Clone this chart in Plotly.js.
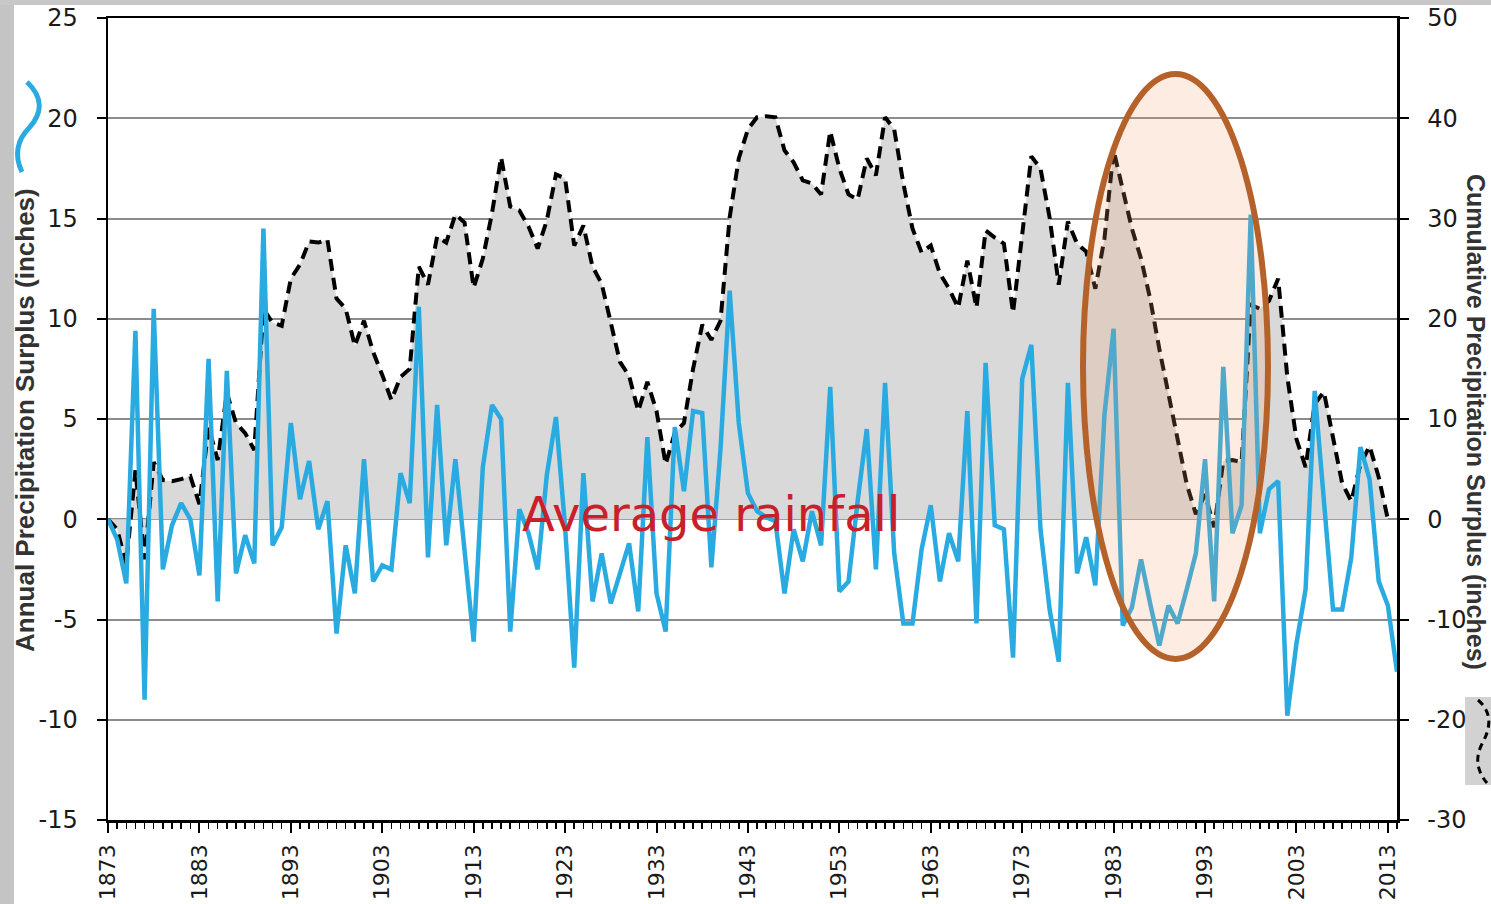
<!DOCTYPE html>
<html>
<head>
<meta charset="utf-8">
<script src="https://cdn.plot.ly/plotly-3.0.1.min.js"></script>
<style>
  html, body { margin: 0; padding: 0; background: #ffffff; }
  #chart { width: 1491px; height: 904px; }
</style>
</head>
<body>
<div id="chart"></div>
<script>
// ---- DATA ----
const firstYear = 1873;
const lastYear = 2014;
const years = [];
for (let y = firstYear; y <= lastYear; y++) years.push(y);

// Annual precipitation surplus (inches), left axis, 1873-2014
const annualSurplus = [
  0.0, -1.0, -3.2, 9.4, -9.0, 10.5, -2.5, -0.3, 0.8, 0.0,
  -2.8, 8.0, -4.1, 7.4, -2.7, -0.8, -2.2, 14.5, -1.3, -0.4,
  4.8, 1.0, 2.9, -0.5, 0.9, -5.7, -1.3, -3.7, 3.0, -3.1,
  -2.3, -2.5, 2.3, 0.8, 10.6, -1.9, 5.7, -1.3, 3.0, -1.5,
  -6.1, 2.6, 5.7, 5.0, -5.6, 0.5, -0.7, -2.5, 2.2, 5.1,
  -0.4, -7.4, 2.3, -4.1, -1.7, -4.2, -2.7, -1.2, -4.6, 4.1,
  -3.7, -5.6, 4.6, 1.4, 5.4, 5.3, -2.4, 3.5, 11.4, 4.8,
  1.3, 0.4, 0.1, -0.1, -3.7, -0.5, -2.1, 0.4, -1.3, 6.6,
  -3.6, -3.1, 0.9, 4.5, -2.5, 6.8, -1.7, -5.2, -5.2, -1.5,
  0.7, -3.1, -0.7, -2.1, 5.4, -5.2, 7.8, -0.3, -0.5, -6.9,
  7.0, 8.7, -0.5, -4.5, -7.1, 6.8, -2.7, -0.9, -3.3, 5.2,
  9.5, -5.3, -4.4, -2.0, -4.2, -6.3, -4.3, -5.2, -3.5, -1.7,
  3.0, -4.1, 7.6, -0.7, 0.7, 15.2, -0.7, 1.5, 1.9, -9.8,
  -6.2, -3.5, 6.4, 1.2, -4.5, -4.5, -1.9, 3.6, 2.0, -3.1,
  -4.3, -7.6
];

// Cumulative precipitation surplus (inches), right axis, 1873-2013 (no 2014 value)
const cumulativeSurplus = [
  0.0, -1.0, -4.5, 4.9, -4.0, 5.7, 3.9, 3.8, 4.0, 4.3,
  1.5, 9.2, 5.9, 12.6, 9.6, 8.6, 6.9, 21.0, 19.6, 19.3,
  24.0, 25.4, 27.7, 27.6, 27.9, 22.0, 21.0, 17.3, 19.8, 16.7,
  14.4, 11.9, 14.2, 15.0, 25.2, 23.4, 28.2, 27.6, 30.4, 29.6,
  23.1, 26.0, 30.5, 36.1, 31.2, 30.8, 29.2, 27.0, 29.8, 34.4,
  34.0, 27.3, 29.3, 25.2, 23.5, 19.8, 15.7, 14.3, 10.8, 13.7,
  10.8, 5.5, 8.6, 9.6, 15.0, 19.4, 17.9, 19.8, 30.1, 36.0,
  38.9, 40.1, 40.2, 40.1, 36.8, 35.6, 33.8, 33.5, 32.4, 38.7,
  35.0, 32.4, 31.9, 36.0, 34.3, 40.1, 38.9, 33.5, 29.0, 26.6,
  27.3, 24.5, 23.0, 21.1, 25.8, 21.1, 28.8, 28.1, 27.5, 20.6,
  28.0, 36.2, 35.0, 30.1, 23.4, 29.7, 27.5, 26.7, 23.0, 28.0,
  36.8, 33.0, 29.0, 26.0, 22.0, 17.0, 12.5, 7.5, 3.5, 0.5,
  2.5, -0.8, 5.8, 5.9, 5.7, 21.4, 21.0, 21.8, 24.0, 14.2,
  8.0, 5.2, 11.5, 12.7, 8.2, 3.6, 1.8, 5.5, 7.3, 4.2,
  0.0, null
];

// Tick labels (hyphen minus as in the original)
const leftTickVals = [-15, -10, -5, 0, 5, 10, 15, 20, 25];
const leftTickText = ['-15', '-10', '-5', '0', '5', '10', '15', '20', '25'];
const rightTickVals = [-30, -20, -10, 0, 10, 20, 30, 40, 50];
const rightTickText = ['-30', '-20', '-10', '0', '10', '20', '30', '40', '50'];

const leftTitle = 'Annual Precipitation Surplus (inches)';
const rightTitle = 'Cumulative Precipitation Surplus (inches)';
const noteText = 'Average rainfall';

// ---- helpers: page pixel -> paper coordinates ----
const PL = 108, PT = 18, PW = 1289, PH = 802;
const px = x => (x - PL) / PW;
const py = y => (PT + PH - y) / PH;
function pathFrom(cmds) {
  return cmds.map(c => c[0] + ' ' + c.slice(1).reduce((acc, v, i) => {
    if (i % 2 === 0) acc.push(px(v).toFixed(5)); else acc.push(py(v).toFixed(5));
    return acc;
  }, []).join(' ')).join(' ');
}

const tickFont = { family: 'DejaVu Sans, Verdana, sans-serif', size: 24, color: '#1a1a1a' };

const traces = [
  {
    x: years, y: cumulativeSurplus, yaxis: 'y', type: 'scatter', mode: 'lines',
    line: { color: '#000000', width: 4, dash: '12px,7px' },
    fill: 'tozeroy', fillcolor: '#d9d9d9',
    hoverinfo: 'x+y', showlegend: false, connectgaps: false
  },
  {
    x: years, y: annualSurplus, yaxis: 'y2', type: 'scatter', mode: 'lines',
    line: { color: '#29abe2', width: 4.5 },
    hoverinfo: 'x+y', showlegend: false
  }
];

const layout = {
  width: 1491, height: 904, autosize: false,
  margin: { l: 108, r: 94, t: 18, b: 84, pad: 0 },
  paper_bgcolor: '#ffffff', plot_bgcolor: 'rgba(0,0,0,0)',
  showlegend: false,
  xaxis: {
    range: [1873, 2014], tickmode: 'linear', tick0: 1873, dtick: 10,
    showline: true, linecolor: '#000000', linewidth: 2.5, mirror: true,
    ticks: 'outside', ticklen: 10, tickwidth: 2, tickcolor: '#000000',
    tickangle: -90, ticklabelstandoff: 3,
    tickfont: { family: 'DejaVu Sans, Verdana, sans-serif', size: 22, color: '#1a1a1a' },
    minor: { tick0: 1873, dtick: 1, ticks: 'outside', ticklen: 6, tickwidth: 1.5, tickcolor: '#000000', showgrid: false },
    showgrid: false, zeroline: false
  },
  yaxis: {
    side: 'right', range: [-30, 50], tickmode: 'array', tickvals: rightTickVals, ticktext: rightTickText,
    showline: true, linecolor: '#000000', linewidth: 2.5,
    ticks: 'outside', ticklen: 9, tickwidth: 2, tickcolor: '#000000',
    ticklabelstandoff: 14, tickfont: tickFont,
    showgrid: true, gridcolor: '#8c8c8c', gridwidth: 2, zeroline: false
  },
  yaxis2: {
    overlaying: 'y', side: 'left', range: [-15, 25], tickmode: 'array', tickvals: leftTickVals, ticktext: leftTickText,
    showline: true, linecolor: '#000000', linewidth: 2.5,
    ticks: 'outside', ticklen: 9, tickwidth: 2, tickcolor: '#000000',
    ticklabelstandoff: 14, tickfont: tickFont,
    showgrid: false, zeroline: false
  },
  annotations: [
    {
      text: noteText, xref: 'paper', yref: 'paper', x: px(711), y: py(514),
      xanchor: 'center', yanchor: 'middle', showarrow: false,
      font: { family: 'DejaVu Sans, Verdana, sans-serif', size: 48, color: '#c8202a' }
    },
    {
      text: leftTitle, xref: 'paper', yref: 'paper', x: px(25), y: py(420),
      xanchor: 'center', yanchor: 'middle', showarrow: false, textangle: -90,
      font: { family: 'Liberation Sans Narrow, Arial Narrow, sans-serif', size: 26, color: '#333333', weight: 'bold' }
    },
    {
      text: rightTitle, xref: 'paper', yref: 'paper', x: px(1476), y: py(422),
      xanchor: 'center', yanchor: 'middle', showarrow: false, textangle: 90,
      font: { family: 'Liberation Sans Narrow, Arial Narrow, sans-serif', size: 25, color: '#333333', weight: 'bold' }
    }
  ],
  shapes: [
    // slide frame remnants
    { type: 'rect', xref: 'paper', yref: 'paper', x0: px(0), x1: px(14), y0: py(904), y1: py(0),
      fillcolor: '#c4c4c4', line: { width: 0 }, layer: 'below' },
    { type: 'rect', xref: 'paper', yref: 'paper', x0: px(0), x1: px(1491), y0: py(5), y1: py(0),
      fillcolor: '#c8c8c8', line: { width: 0 }, layer: 'below' },
    { type: 'rect', xref: 'paper', yref: 'paper', x0: px(1465), x1: px(1491), y0: py(785), y1: py(697),
      fillcolor: '#d2d2d2', line: { width: 0 }, layer: 'below' },
    // legend-like wave symbols
    { type: 'path', xref: 'paper', yref: 'paper',
      path: pathFrom([['M', 27, 82], ['C', 44, 98, 42, 114, 29, 128], ['C', 17, 140, 14, 156, 22, 172]]),
      line: { color: '#29abe2', width: 5 }, fillcolor: 'rgba(0,0,0,0)' },
    { type: 'path', xref: 'paper', yref: 'paper',
      path: pathFrom([['M', 1478, 700], ['C', 1492, 712, 1491, 727, 1483, 742], ['C', 1475, 756, 1476, 770, 1487, 783]]),
      line: { color: '#000000', width: 3, dash: '7px,5px' }, fillcolor: 'rgba(0,0,0,0)' },
    // highlight ellipse
    { type: 'circle', xref: 'paper', yref: 'paper',
      x0: px(1083), x1: px(1268), y0: py(659), y1: py(74),
      line: { color: '#b5622a', width: 6 }, fillcolor: 'rgba(240,160,110,0.2)', layer: 'above' }
  ]
};

Plotly.newPlot('chart', traces, layout, { displayModeBar: false, staticPlot: true });
</script>
</body>
</html>
